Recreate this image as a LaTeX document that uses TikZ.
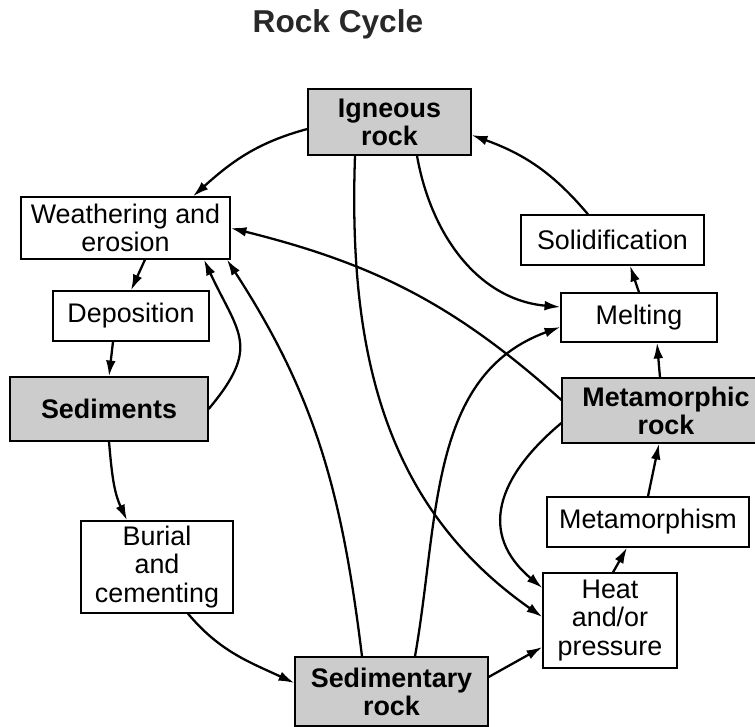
\documentclass[tikz,border=0pt]{standalone}
\usepackage{fontspec}
\setmainfont{Liberation Sans}
\usepackage{tikz}
\usetikzlibrary{arrows.meta}
\definecolor{rockgray}{RGB}{204,204,204}
\definecolor{titlegray}{RGB}{40,40,40}
\tikzset{
  stagebox/.style={draw, line width=0.75pt, fill=white, align=center, inner sep=0pt,
    font=\fontsize{15.3}{16}\selectfont},
  rockbox/.style={stagebox, fill=rockgray, font=\fontsize{15.3}{16}\selectfont\bfseries},
  flow/.style={-{Latex[length=9pt,width=5.5pt]}, line width=1.3pt}
}

\begin{document}
\begin{tikzpicture}[x=0.02cm, y=-0.02cm]
        \useasboundingbox (0,0) rectangle (755,727);
        \node[font=\fontsize{18}{18}\selectfont\bfseries, text=titlegray] (title) at (338,24) {Rock Cycle};
        % rocks
        \node[rockbox, minimum width=3.26cm, minimum height=1.32cm] (igneous) at (389.5,122) {Igneous\\rock};
        \node[rockbox, minimum width=3.96cm, minimum height=1.28cm] (sedim) at (109,409) {Sediments};
        \node[rockbox, minimum width=3.86cm, minimum height=1.38cm] (sedrock) at (391.5,691.5) {Sedimentary\\rock};
        \node[rockbox, minimum width=4.16cm, minimum height=1.30cm] (metrock) at (666,410.5) {Metamorphic\\rock};
        % processes
        \node[stagebox, minimum width=4.18cm, minimum height=1.24cm] (weather) at (125.5,228) {Weathering and\\erosion};
        \node[stagebox, minimum width=3.12cm, minimum height=1.00cm] (depos) at (131,316) {Deposition};
        \node[stagebox, minimum width=3.04cm, minimum height=1.84cm] (burial) at (157,567) {Burial\\and\\cementing};
        \node[stagebox, minimum width=2.68cm, minimum height=1.90cm] (heat) at (610,620.5) {Heat\\and/or\\pressure};
        \node[stagebox, minimum width=4.04cm, minimum height=1.00cm] (metamism) at (648,522) {Metamorphism};
        \node[stagebox, minimum width=3.12cm, minimum height=0.98cm] (melting) at (639,317.5) {Melting};
        \node[stagebox, minimum width=3.66cm, minimum height=1.00cm] (solid) at (612.5,240) {Solidification};
        % arrows
        \draw[flow] ([yshift=-0.14cm]igneous.west) to[out=195,in=42] ([xshift=1.35cm]weather.north);
        \draw[flow] ([xshift=-0.49cm]solid.north) to[out=130,in=-20] ([yshift=-0.26cm]igneous.east);
        \draw[flow] ([xshift=0.39cm]weather.south) -- (depos.north);
        \draw[flow] ([xshift=-0.36cm]depos.south) -- (sedim.north);
        \draw[flow] (sedim.east) to[out=50,in=-65,looseness=1.4] ([xshift=1.57cm]weather.south);
        \draw[flow] ([xshift=-0.59cm]sedrock.north) to[out=97,in=-57] ([xshift=2.03cm]weather.south);
        \draw[flow] (sedim.south) to[out=-85,in=115] ([xshift=-0.6cm]burial.north);
        \draw[flow] ([xshift=0.62cm]burial.south) to[out=-50,in=155] ([yshift=0.17cm]sedrock.west);
        \draw[flow] ([yshift=0.29cm]sedrock.east) -- ([yshift=-0.53cm]heat.west);
        \draw[flow] ([xshift=0.47cm]sedrock.north) to[out=80,in=200] ([yshift=-0.19cm]melting.west);
        \draw[flow] ([xshift=0.55cm]igneous.south) to[out=-80,in=175] ([yshift=0.21cm]melting.west);
        \draw[flow] ([xshift=-0.69cm]igneous.south) to[out=-92,in=145] ([yshift=0.07cm]heat.west);
        \draw[flow] ([yshift=0.21cm]metrock.west) to[out=138,in=-14] (weather.east);
        \draw[flow] ([yshift=-0.25cm]metrock.west) to[out=-140,in=140,looseness=1.3] ([yshift=0.65cm]heat.west);
        \draw[flow] ([xshift=-0.12cm]metrock.north) -- ([xshift=0.36cm]melting.south);
        \draw[flow] (melting.north) -- ([xshift=0.35cm]solid.south);
        \draw[flow] ([xshift=0.06cm]heat.north) -- ([xshift=-0.42cm]metamism.south);
        \draw[flow] (metamism.north) -- ([xshift=-0.14cm]metrock.south);
\end{tikzpicture}
\end{document}
